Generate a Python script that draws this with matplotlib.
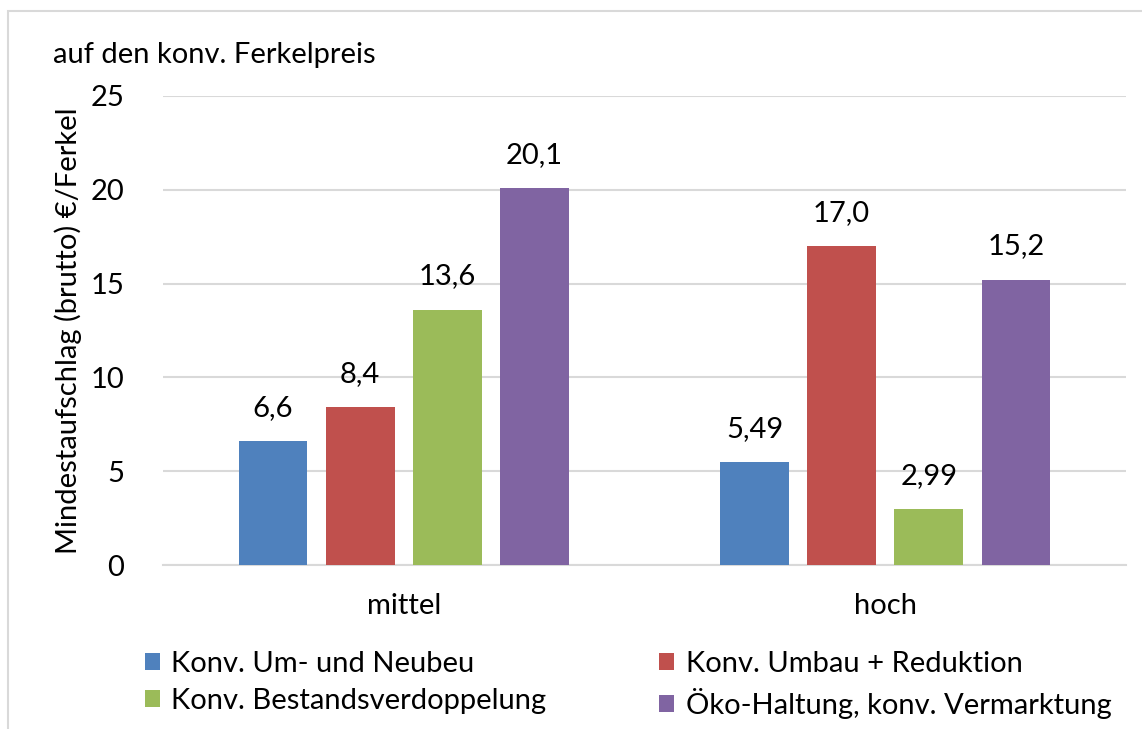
"""Mindestaufschlag auf den konv. Ferkelpreis, grouped bars per Preisniveau."""

import matplotlib

matplotlib.use("Agg")
import matplotlib.pyplot as plt
import numpy as np
from matplotlib.patches import Rectangle

plt.rcParams["font.family"] = ["Lato", "DejaVu Sans"]

categories = ["mittel", "hoch"]
series_names = [
    "Konv. Um- und Neubeu",
    "Konv. Umbau + Reduktion",
    "Konv. Bestandsverdoppelung",
    "Öko-Haltung, konv. Vermarktung",
]
values = [
    [6.6, 5.49],
    [8.4, 17.0],
    [13.6, 2.99],
    [20.1, 15.2],
]
value_labels = [
    ["6,6", "5,49"],
    ["8,4", "17,0"],
    ["13,6", "2,99"],
    ["20,1", "15,2"],
]
colors = ["#4F81BD", "#C0504D", "#9BBB59", "#8064A2"]
yticks = [0, 5, 10, 15, 20, 25]

GRID = "#D9D9D9"
FS = 21

fig = plt.figure(figsize=(11.42, 7.29), dpi=100)
ax = fig.add_axes([163 / 1142, 1 - 565 / 729, (1126 - 163) / 1142, (565 - 96) / 729])

x = np.arange(len(categories))
width = 0.143
step = 0.181
for i, (name, vals, labs, col) in enumerate(zip(series_names, values, value_labels, colors)):
    pos = x + (i - 1.5) * step
    ax.bar(pos, vals, width=width, color=col, label=name, zorder=3)
    for px, v, lab in zip(pos, vals, labs):
        ax.annotate(lab, (px, v), xytext=(0, 24), textcoords="offset points",
                    ha="center", va="center", fontsize=FS, color="#000000")

ax.set_xlim(-0.5, 1.5)
ax.set_ylim(0, 25)
ax.set_yticks(yticks)
ax.set_xticks(x)
ax.set_xticklabels(categories)
ax.tick_params(axis="both", length=0, labelsize=FS, colors="#000000")
ax.tick_params(axis="y", pad=28)
ax.tick_params(axis="x", pad=20)
ax.grid(axis="y", color=GRID, linewidth=1.5, zorder=0)
for side in ["top", "right", "left"]:
    ax.spines[side].set_visible(False)
ax.spines["bottom"].set_color(GRID)
ax.spines["bottom"].set_linewidth(1.5)
ax.set_ylabel("Mindestaufschlag (brutto) €/Ferkel", fontsize=FS, labelpad=6)

fig.text(53 / 1142, 1 - 55 / 729, "auf den konv. Ferkelpreis", fontsize=FS,
         ha="left", va="center")

# light frame around the chart area
fig.patches.append(Rectangle((8 / 1142, -0.05), 1.2, 1 - 11 / 729 + 0.05,
                             transform=fig.transFigure, fill=False,
                             edgecolor=GRID, linewidth=1.5))

# legend fills row by row in the original
handles, labels = ax.get_legend_handles_labels()
order = [0, 2, 1, 3]
fig.legend([handles[k] for k in order], [labels[k] for k in order],
           loc="upper left", bbox_to_anchor=(130 / 1142, 1 - 636 / 729),
           ncol=2, frameon=False, fontsize=FS, handlelength=0.52, handleheight=0.52,
           handletextpad=0.4, columnspacing=3.85, labelspacing=0.4, borderpad=0)

fig.savefig("out.png", dpi=100)
